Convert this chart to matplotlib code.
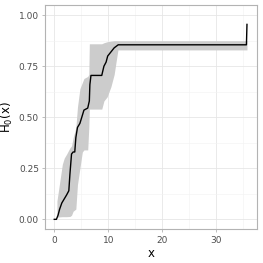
import matplotlib
matplotlib.use("Agg")
import matplotlib.pyplot as plt
import numpy as np

# estimated curve H0(x)
x_line = [0.0, 0.4, 0.7, 1.0, 1.4, 1.85, 2.3, 2.7, 2.9, 3.2, 3.5, 3.8, 4.0, 4.3,
          4.75, 5.1, 5.5, 6.2, 6.5, 6.6, 6.8, 8.8, 9.2, 9.6, 9.9, 10.5, 11.1,
          11.85, 35.6, 35.7]
y_line = [0.0, 0.0, 0.02, 0.05, 0.08, 0.10, 0.12, 0.14, 0.22, 0.32, 0.33, 0.33,
          0.40, 0.45, 0.47, 0.50, 0.535, 0.545, 0.58, 0.66, 0.705, 0.705, 0.75,
          0.77, 0.80, 0.82, 0.84, 0.855, 0.855, 0.955]

# estimated confidence band
x_band = [0.5, 1.0, 1.5, 1.85, 2.3, 2.9, 3.2, 3.5, 4.0, 4.3, 4.75, 5.2, 5.5,
          6.2, 6.4, 6.5, 7.0, 8.8, 9.2, 9.8, 10.5, 11.1, 11.5, 11.8, 12.0, 35.7]
lower = [0.01, 0.012, 0.013, 0.013, 0.013, 0.014, 0.02, 0.04, 0.05, 0.17, 0.25,
         0.33, 0.34, 0.34, 0.45, 0.54, 0.54, 0.54, 0.58, 0.60, 0.65, 0.71,
         0.78, 0.83, 0.83, 0.83]
upper = [0.09, 0.18, 0.27, 0.30, 0.32, 0.35, 0.36, 0.40, 0.45, 0.55, 0.64,
         0.67, 0.69, 0.70, 0.71, 0.86, 0.86, 0.86, 0.865, 0.87, 0.873, 0.875,
         0.875, 0.875, 0.875, 0.875]

fig = plt.figure(figsize=(2.63, 2.63), dpi=100)
ax = fig.add_axes([0.172, 0.128, 0.804, 0.853])

ax.fill_between(x_band, lower, upper, color="#cccccc", linewidth=0, zorder=2)
ax.plot(x_line, y_line, color="black", linewidth=1.0, zorder=3)

ax.set_xlim(-1.67, 37.5)
ax.set_ylim(-0.049, 1.05)
ax.set_xticks([0, 10, 20, 30])
ax.set_yticks([0, 0.25, 0.5, 0.75, 1.0])
ax.set_yticklabels(["0.00", "0.25", "0.50", "0.75", "1.00"])
ax.set_xticks([5, 15, 25, 35], minor=True)
ax.set_yticks([0.125, 0.375, 0.625, 0.875], minor=True)

ax.grid(True, which="major", color="#e6e6e6", linewidth=0.6, zorder=0)
ax.grid(True, which="minor", color="#f2f2f2", linewidth=0.4, zorder=0)
ax.set_axisbelow(True)

for s in ax.spines.values():
    s.set_color("#b3b3b3")
    s.set_linewidth(0.8)

ax.tick_params(which="major", length=2.5, width=0.6, color="#b3b3b3",
               labelsize=6.5, labelcolor="#4d4d4d", pad=2)
ax.tick_params(which="minor", length=0)

ax.set_xlabel("x", fontsize=8.5, color="black", labelpad=2)
ax.set_ylabel("$\\mathrm{H_0(x)}$", fontsize=8.5, color="black", labelpad=3)

fig.savefig("out.png", dpi=100)
